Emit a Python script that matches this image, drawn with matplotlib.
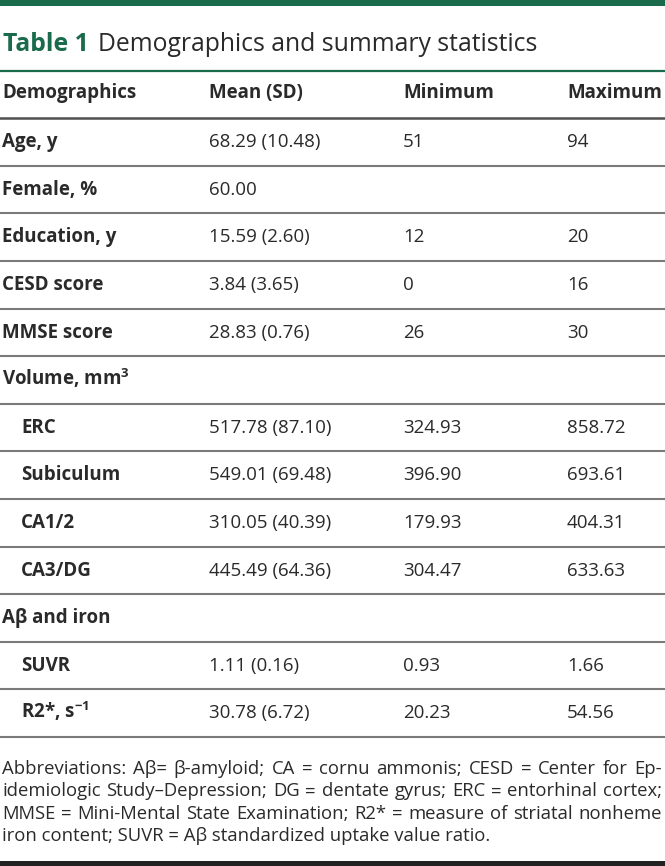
import matplotlib
matplotlib.use("Agg")
import matplotlib.pyplot as plt

plt.rcParams['font.family'] = ['Open Sans', 'DejaVu Sans']
plt.rcParams['mathtext.fontset'] = 'custom'
plt.rcParams['mathtext.rm'] = 'Open Sans'
plt.rcParams['mathtext.it'] = 'Open Sans'
plt.rcParams['mathtext.bf'] = 'Open Sans:bold'

# ---- data ----
title_num = "Table 1"
title_text = "Demographics and summary statistics"
headers = ["Demographics", "Mean (SD)", "Minimum", "Maximum"]
labels = ["Age, y", "Female, %", "Education, y", "CESD score", "MMSE score",
          "Volume, mm$^{\\mathbf{3}}$", "ERC", "Subiculum", "CA1/2", "CA3/DG",
          "Aβ and iron", "SUVR", "R2*, s$^{\\mathbf{-1}}$"]
indent = [0, 0, 0, 0, 0, 0, 1, 1, 1, 1, 0, 1, 1]
means = ["68.29 (10.48)", "60.00", "15.59 (2.60)", "3.84 (3.65)", "28.83 (0.76)",
         "", "517.78 (87.10)", "549.01 (69.48)", "310.05 (40.39)", "445.49 (64.36)",
         "", "1.11 (0.16)", "30.78 (6.72)"]
minimums = ["51", "", "12", "0", "26", "", "324.93", "396.90", "179.93", "304.47",
            "", "0.93", "20.23"]
maximums = ["94", "", "20", "16", "30", "", "858.72", "693.61", "404.31", "633.63",
            "", "1.66", "54.56"]
footnote = [
    "Abbreviations: Aβ= β-amyloid; CA = cornu ammonis; CESD = Center for Ep-",
    "idemiologic Study–Depression; DG = dentate gyrus; ERC = entorhinal cortex;",
    "MMSE = Mini-Mental State Examination; R2* = measure of striatal nonheme",
    "iron content; SUVR = Aβ standardized uptake value ratio.",
]

W, H = 665, 866
GREEN = "#1a6b4c"
TXT = "#2a2a2a"

fig = plt.figure(figsize=(W / 100, H / 100), dpi=100)
ax = fig.add_axes([0, 0, 1, 1])
ax.set_xlim(0, W)
ax.set_ylim(H, 0)
ax.axis("off")

# top bar
ax.axhspan(0, 6, color=GREEN, lw=0)
# title
t1 = ax.text(3, 51, title_num, color=GREEN, fontsize=17.8, fontweight="bold",
             va="baseline", ha="left")
fig.canvas.draw()
renderer = fig.canvas.get_renderer()
bb = t1.get_window_extent(renderer)
x_end = bb.x1 + 9
ax.text(x_end, 51, title_text, color=TXT, fontsize=17.8, va="baseline", ha="left")
ax.axhline(71, color=GREEN, lw=1.6)

col_x = [2, 209, 403, 567]
fs = 13.5
hdr_y = 91.5
cap_off = 6.7
for x, h in zip(col_x, headers):
    ax.text(x, hdr_y + cap_off, h, fontsize=fs, fontweight="bold", color=TXT,
            va="baseline")
ax.axhline(117.5, color="#505050", lw=1.8)

pitch = 47.6
y0 = 140.5
for i, lab in enumerate(labels):
    y = y0 + i * pitch
    ax.text(col_x[0] + 19 * indent[i], y + cap_off, lab, fontsize=fs,
            fontweight="bold", color=TXT, va="baseline")
    ax.text(col_x[1], y + cap_off, means[i], fontsize=fs, color=TXT, va="baseline")
    ax.text(col_x[2], y + cap_off, minimums[i], fontsize=fs, color=TXT, va="baseline")
    ax.text(col_x[3], y + cap_off, maximums[i], fontsize=fs, color=TXT, va="baseline")
    ax.axhline(y + 25.3, color="#7a7a7a", lw=1.5)

# footnote, justified except last line
fn_fs = 13.3
right_edge = 662
for j, line in enumerate(footnote):
    yb = 774 + j * 22.3
    words = line.split(" ")
    if j == len(footnote) - 1:
        ax.text(2, yb, line, fontsize=fn_fs, color=TXT, va="baseline")
        continue
    widths = []
    for w in words:
        tt = ax.text(0, 0, w, fontsize=fn_fs)
        e = tt.get_window_extent(renderer)
        widths.append(e.width)
        tt.remove()
    total = sum(widths)
    gap = (right_edge - 2 - total) / (len(words) - 1)
    x = 2
    for w, wd in zip(words, widths):
        ax.text(x, yb, w, fontsize=fn_fs, color=TXT, va="baseline")
        x += wd + gap

ax.axhspan(861, 866, color="#222222", lw=0)

fig.savefig("out.png", dpi=100)
